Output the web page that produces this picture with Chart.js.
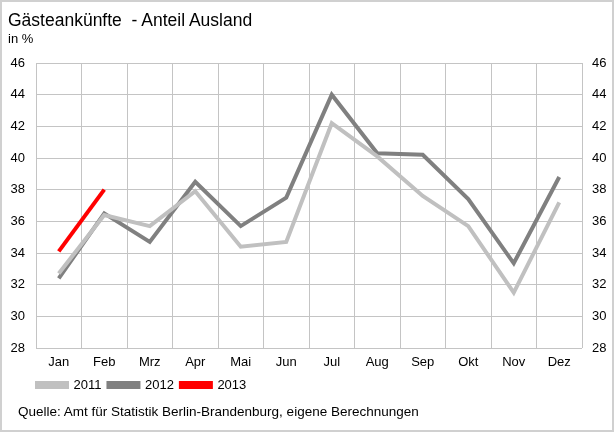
<!DOCTYPE html>
<html>
<head>
<meta charset="utf-8">
<script src="https://cdn.jsdelivr.net/npm/chart.js@4.4.1/dist/chart.umd.min.js"></script>
<style>
  html, body { margin: 0; padding: 0; background: #fff; }
  #wrap { position: relative; width: 614px; height: 432px; box-sizing: border-box; border: 2px solid #d0d0d0; overflow: hidden; }
  #chart { position: absolute; left: -2px; top: -2px; }
  .txt { position: absolute; font-family: "Liberation Sans", Arial, sans-serif; color: #000; line-height: 1; white-space: pre; }
  #title { left: 6px; top: 10px; font-size: 17.5px; }
  #unit { left: 6px; top: 29.5px; font-size: 13px; }
  #source { left: 16px; top: 403px; font-size: 13.5px; }
</style>
</head>
<body>
<div id="wrap">
  <canvas id="chart" width="614" height="432"></canvas>
  <div class="txt" id="title">Gästeankünfte  - Anteil Ausland</div>
  <div class="txt" id="unit">in %</div>
  <div class="txt" id="source">Quelle: Amt für Statistik Berlin-Brandenburg, eigene Berechnungen</div>
</div>
<script>
const months = ["Jan","Feb","Mrz","Apr","Mai","Jun","Jul","Aug","Sep","Okt","Nov","Dez"];
const series2011 = [32.7, 36.4, 35.7, 37.9, 34.4, 34.7, 42.2, 40.1, 37.6, 35.7, 31.5, 37.2];
const series2012 = [32.4, 36.5, 34.7, 38.5, 35.7, 37.5, 44.0, 40.3, 40.2, 37.4, 33.35, 38.8];
const series2013 = [34.1, 38.0];
const yMin = 28, yMax = 46, yStep = 2;

const font = { family: "'Liberation Sans', Arial, sans-serif", size: 13 };

const legendShift = {
  id: 'legendShift',
  afterLayout(chart) {
    if (chart.legend) { chart.legend.left = 30; }
  }
};

new Chart(document.getElementById('chart'), {
  type: 'line',
  data: {
    labels: months,
    datasets: [
      { label: '2011', data: series2011, borderColor: '#c0c0c0', backgroundColor: '#c0c0c0', borderWidth: 4, pointRadius: 0, tension: 0 },
      { label: '2012', data: series2012, borderColor: '#808080', backgroundColor: '#808080', borderWidth: 4, pointRadius: 0, tension: 0 },
      { label: '2013', data: series2013, borderColor: '#ff0000', backgroundColor: '#ff0000', borderWidth: 4, pointRadius: 0, tension: 0 }
    ]
  },
  plugins: [legendShift],
  options: {
    responsive: false,
    animation: false,
    events: [],
    layout: { padding: { top: 63, left: 0, right: 0, bottom: 30.5 } },
    plugins: {
      title: { display: false },
      tooltip: { enabled: false },
      legend: {
        position: 'bottom',
        align: 'start',
        labels: {
          boxWidth: 30, boxHeight: 4, padding: 7,
          color: '#000', font: font
        }
      }
    },
    scales: {
      x: {
        offset: true,
        grid: { offset: true, color: '#c4c4c4', lineWidth: 1, drawTicks: false },
        border: { display: false },
        ticks: { color: '#000', font: font, padding: 7, maxRotation: 0 },
        afterFit(s) { s.height = 23.5; }
      },
      y: {
        position: 'left',
        min: yMin, max: yMax,
        grid: { color: '#c4c4c4', lineWidth: 1, drawTicks: false },
        border: { display: false },
        ticks: { stepSize: yStep, color: '#000', font: font, padding: 11 },
        afterFit(s) { s.width = 36; }
      },
      y2: {
        position: 'right',
        min: yMin, max: yMax,
        grid: { display: false, drawTicks: false },
        border: { display: false },
        ticks: { stepSize: yStep, color: '#000', font: font, padding: 10 },
        afterFit(s) { s.width = 32; }
      }
    }
  }
});
</script>
</body>
</html>
